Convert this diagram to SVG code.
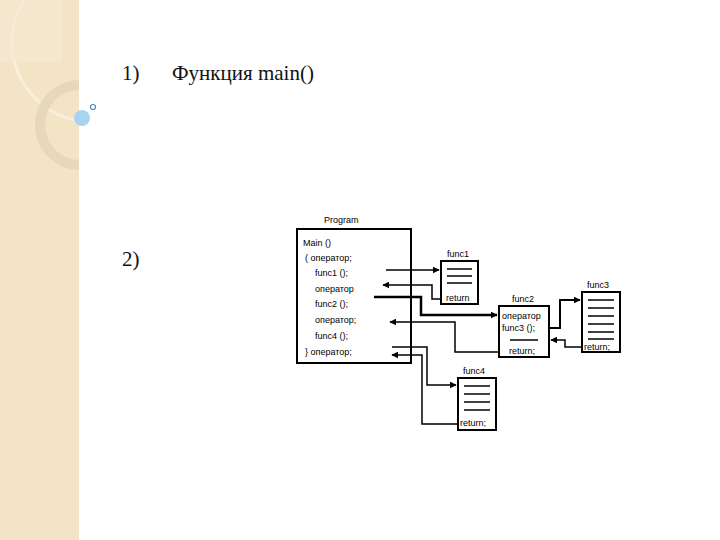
<svg xmlns="http://www.w3.org/2000/svg" width="720" height="540" viewBox="0 0 720 540">
<defs>
<marker id="ah" viewBox="0 0 10 10" refX="9" refY="5" markerWidth="7" markerHeight="7" orient="auto" markerUnits="userSpaceOnUse"><path d="M0,0 L10,5 L0,10 z" fill="#000"/></marker>
<clipPath id="strip"><rect x="0" y="0" width="79" height="540"/></clipPath>
</defs>
<style>
.t{font-family:"Liberation Serif",serif;font-size:21px;fill:#111}
.s{font-family:"Liberation Sans",Arial,sans-serif;font-size:9px;fill:#000}
.b{fill:#fff;stroke:#000;stroke-width:2}
.l{stroke:#000;stroke-width:1.5}
.c{fill:none;stroke:#000;stroke-width:1.5;marker-end:url(#ah)}
</style>
<rect width="720" height="540" fill="#fff"/>
<rect x="0" y="0" width="79" height="540" fill="#F2E4C4"/>
<g clip-path="url(#strip)" fill="none">
<circle cx="92" cy="42" r="80" stroke="#F8EEDB" stroke-width="3"/>
<circle cx="80" cy="125" r="40" stroke="#E6D8B8" stroke-width="10"/>
<rect x="0" y="0" width="62" height="62" fill="#F5EAD3" stroke="none" opacity="0.6"/>
</g>
<circle cx="82" cy="118" r="8" fill="#A9D3EE"/>
<circle cx="93" cy="107" r="2.5" fill="#fff" stroke="#4C8BC2" stroke-width="1.2"/>
<text class="t" x="122" y="80">1)</text>
<text class="t" x="172" y="80">Функция main()</text>
<text class="t" x="122" y="266">2)</text>

<g id="program">
<text class="s" x="324" y="223">Program</text>
<rect class="b" x="297" y="229" width="114" height="134"/>
<text class="s" x="303" y="246">Main ()</text>
<text class="s" x="305" y="261">(  оператор;</text>
<text class="s" x="315" y="276">func1 ();</text>
<text class="s" x="315" y="292">оператор</text>
<text class="s" x="315" y="307">func2 ();</text>
<text class="s" x="315" y="323">оператор;</text>
<text class="s" x="315" y="339">func4 ();</text>
<text class="s" x="305" y="355">}  оператор;</text>
</g>
<g id="func1">
<text class="s" x="447" y="257">func1</text>
<rect class="b" x="441" y="261" width="37" height="43"/>
<line class="l" x1="447" y1="269" x2="472" y2="269"/>
<line class="l" x1="447" y1="276" x2="472" y2="276"/>
<line class="l" x1="447" y1="283" x2="472" y2="283"/>
<text class="s" x="446" y="301">return</text>
</g>
<g id="func2">
<text class="s" x="512" y="302">func2</text>
<rect class="b" x="499" y="306" width="50" height="51"/>
<text class="s" x="502" y="319">оператор</text>
<text class="s" x="502" y="331">func3 ();</text>
<line class="l" x1="510" y1="340" x2="538" y2="340"/>
<text class="s" x="509" y="354">return;</text>
</g>
<g id="func3">
<text class="s" x="587" y="288">func3</text>
<rect class="b" x="582" y="292" width="38" height="60"/>
<line class="l" x1="588" y1="300" x2="614" y2="300"/>
<line class="l" x1="588" y1="308" x2="614" y2="308"/>
<line class="l" x1="588" y1="316" x2="614" y2="316"/>
<line class="l" x1="588" y1="324" x2="614" y2="324"/>
<line class="l" x1="588" y1="332" x2="614" y2="332"/>
<line class="l" x1="588" y1="339" x2="614" y2="339"/>
<text class="s" x="584" y="350">return;</text>
</g>
<g id="func4">
<text class="s" x="463" y="374">func4</text>
<rect class="b" x="458" y="378" width="38" height="52"/>
<line class="l" x1="464" y1="386" x2="490" y2="386"/>
<line class="l" x1="464" y1="394" x2="490" y2="394"/>
<line class="l" x1="464" y1="402" x2="490" y2="402"/>
<line class="l" x1="464" y1="410" x2="490" y2="410"/>
<text class="s" x="460" y="426">return;</text>
</g>
<g id="connectors">
<path class="c" d="M386,270 H439"/>
<path class="c" d="M442,299 H432 V285 H383"/>
<path class="c" style="stroke-width:2.5" d="M374,297 H421 V315 H497"/>
<path class="c" d="M499,352 H455 V322 H390"/>
<path class="c" style="stroke-width:2" d="M549,328 H560 V300 H580"/>
<path class="c" d="M582,347 H565 V340 H551"/>
<path class="c" d="M392,347 H427 V385 H456"/>
<path class="c" d="M458,424 H422 V355 H392"/>
</g>
</svg>
